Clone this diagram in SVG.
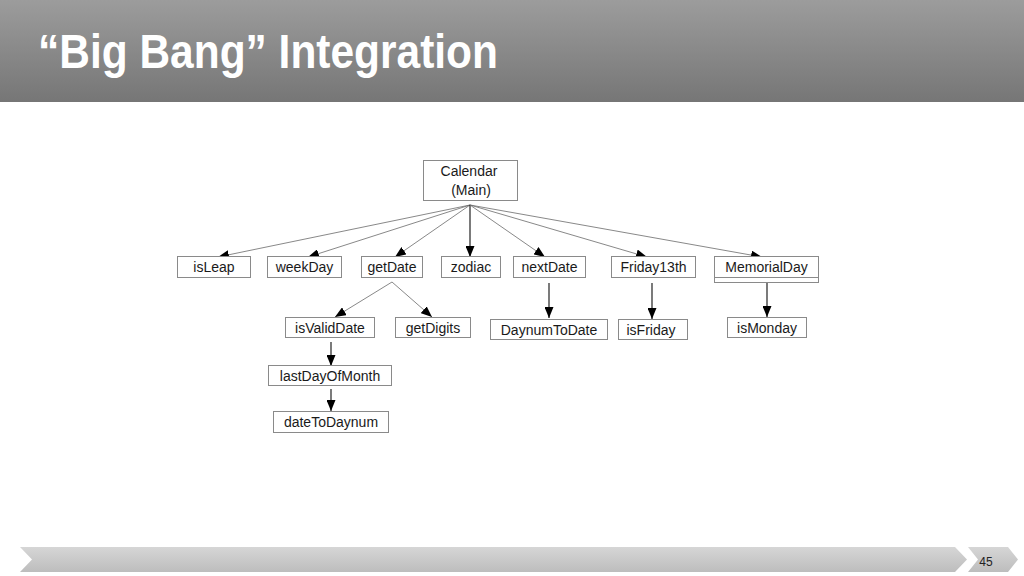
<svg xmlns="http://www.w3.org/2000/svg" width="1024" height="576" viewBox="0 0 1024 576">
  <defs>
    <linearGradient id="hdr" x1="0" y1="0" x2="0" y2="1">
      <stop offset="0" stop-color="#9c9c9c"/>
      <stop offset="1" stop-color="#767676"/>
    </linearGradient>
    <linearGradient id="ftr" x1="0" y1="0" x2="0" y2="1">
      <stop offset="0" stop-color="#d6d6d6"/>
      <stop offset="1" stop-color="#bdbdbd"/>
    </linearGradient>
    <marker id="arr" markerUnits="userSpaceOnUse" markerWidth="11" markerHeight="9" refX="11" refY="4.5" orient="auto">
      <path d="M0,0 L11,4.5 L0,9 z" fill="#000"/>
    </marker>
  </defs>
  <style>
    .box { fill: #fff; stroke: #8a8a8a; stroke-width: 1; }
    .lbl { font-family: "Liberation Sans", Arial, sans-serif; font-size: 14px; fill: #1a1a1a; text-anchor: middle; }
    .thin { stroke: #6a6a6a; stroke-width: 0.8; fill: none; marker-end: url(#arr); }
    .dark { stroke: #222; stroke-width: 1.2; fill: none; marker-end: url(#arr); }
  </style>
  <rect x="0" y="0" width="1024" height="576" fill="#fff"/>
  <g id="header">
    <rect x="0" y="0" width="1024" height="102" fill="url(#hdr)"/>
    <text x="38" y="68" font-family="Liberation Sans, Arial, sans-serif" font-weight="bold" font-size="49" fill="#fff" textLength="460" lengthAdjust="spacingAndGlyphs">“Big Bang” Integration</text>
  </g>
  <g id="footer">
    <polygon points="20,547 955,547 967,559.5 955,572 20,572 32,559.5" fill="url(#ftr)"/>
    <polygon points="968,547 1008,547 1018,559.5 1008,572 968,572 978,559.5" fill="url(#ftr)"/>
    <text x="986" y="566" font-family="Liberation Sans, Arial, sans-serif" font-size="12" fill="#222" text-anchor="middle">45</text>
  </g>
  <g id="connectors">
    <line class="thin" x1="470" y1="205" x2="218" y2="257"/>
    <line class="thin" x1="470" y1="205" x2="308" y2="257"/>
    <line class="thin" x1="470" y1="205" x2="395" y2="257"/>
    <line class="dark" x1="470" y1="205" x2="470" y2="257"/>
    <line class="thin" x1="470" y1="205" x2="545" y2="257"/>
    <line class="thin" x1="470" y1="205" x2="647" y2="257"/>
    <line class="thin" x1="470" y1="205" x2="762" y2="257"/>
    <line class="thin" x1="392" y1="282" x2="335" y2="317"/>
    <line class="thin" x1="392" y1="282" x2="432" y2="317"/>
    <line class="dark" x1="549" y1="283" x2="549" y2="318"/>
    <line class="dark" x1="652" y1="283" x2="652" y2="319"/>
    <line class="dark" x1="767" y1="283" x2="767" y2="317"/>
    <line class="dark" x1="331" y1="342" x2="331" y2="366"/>
    <line class="dark" x1="331" y1="389" x2="331" y2="411"/>
  </g>
  <g id="calendar">
    <rect class="box" x="423.5" y="160.5" width="94" height="40"/>
    <text class="lbl" x="469" y="176">Calendar</text>
    <text class="lbl" x="471" y="195">(Main)</text>
  </g>
  <g id="isLeap">
    <rect class="box" x="177.5" y="256.5" width="73" height="21"/>
    <text class="lbl" x="214" y="272">isLeap</text>
  </g>
  <g id="weekDay">
    <rect class="box" x="267.5" y="256.5" width="74" height="21"/>
    <text class="lbl" x="304.5" y="272">weekDay</text>
  </g>
  <g id="getDate">
    <rect class="box" x="361.5" y="256.5" width="61" height="21"/>
    <text class="lbl" x="392" y="272">getDate</text>
  </g>
  <g id="zodiac">
    <rect class="box" x="441.5" y="256.5" width="59" height="21"/>
    <text class="lbl" x="471" y="272">zodiac</text>
  </g>
  <g id="nextDate">
    <rect class="box" x="513.5" y="256.5" width="72" height="21"/>
    <text class="lbl" x="549.5" y="272">nextDate</text>
  </g>
  <g id="friday13th">
    <rect class="box" x="611.5" y="256.5" width="84" height="21"/>
    <text class="lbl" x="653.5" y="272">Friday13th</text>
  </g>
  <g id="memorialDay">
    <rect class="box" x="714.5" y="256.5" width="104" height="26"/>
    <line x1="714.5" y1="277.5" x2="818.5" y2="277.5" stroke="#8a8a8a" stroke-width="1"/>
    <text class="lbl" x="766.5" y="272">MemorialDay</text>
  </g>
  <g id="isValidDate">
    <rect class="box" x="285.5" y="317.5" width="89" height="20"/>
    <text class="lbl" x="330" y="333">isValidDate</text>
  </g>
  <g id="getDigits">
    <rect class="box" x="395.5" y="317.5" width="75" height="20"/>
    <text class="lbl" x="433" y="333">getDigits</text>
  </g>
  <g id="daynumToDate">
    <rect class="box" x="490.5" y="319.5" width="117" height="20"/>
    <text class="lbl" x="549" y="335">DaynumToDate</text>
  </g>
  <g id="isFriday">
    <rect class="box" x="618.5" y="319.5" width="69" height="20"/>
    <text class="lbl" x="651" y="335">isFriday</text>
  </g>
  <g id="isMonday">
    <rect class="box" x="727.5" y="317.5" width="79" height="20"/>
    <text class="lbl" x="767" y="333">isMonday</text>
  </g>
  <g id="lastDayOfMonth">
    <rect class="box" x="268.5" y="365.5" width="123" height="20"/>
    <text class="lbl" x="330" y="381">lastDayOfMonth</text>
  </g>
  <g id="dateToDaynum">
    <rect class="box" x="273.5" y="411.5" width="115" height="21"/>
    <text class="lbl" x="331" y="427">dateToDaynum</text>
  </g>
</svg>
